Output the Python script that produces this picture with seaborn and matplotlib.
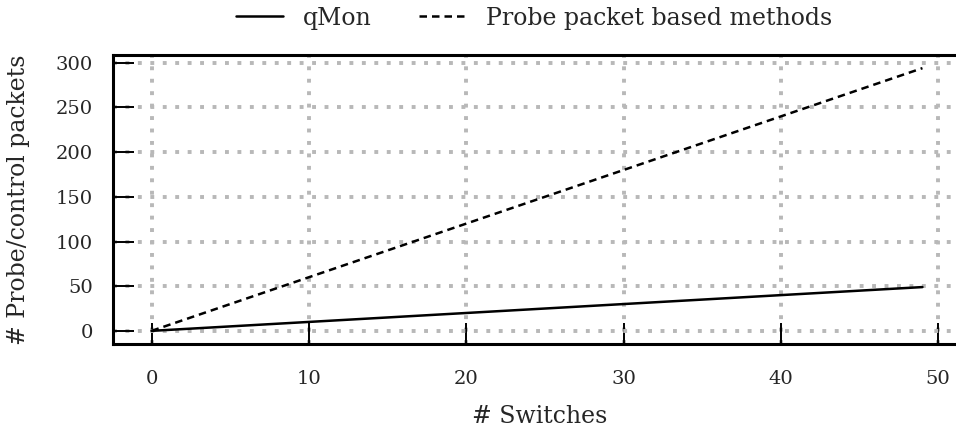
import matplotlib
matplotlib.use("Agg")
import matplotlib.pyplot as plt
import seaborn as sns
import pandas as pd

switches = [0, 10, 20, 30, 40, 49]
qmon = [0, 10, 20, 30, 40, 49]
probe = [0, 60, 120, 180, 240, 294]
series_names = ["qMon", "Probe packet based methods"]
xticks = [0, 10, 20, 30, 40, 50]
yticks = [0, 50, 100, 150, 200, 250, 300]

sns.set_theme(style="white")
plt.rcParams['font.family'] = ['DejaVu Serif']

df = pd.DataFrame({
    "x": switches * 2,
    "y": qmon + probe,
    "method": [series_names[0]] * len(switches) + [series_names[1]] * len(switches),
})

fig = plt.figure(figsize=(9.56, 4.32), dpi=100)
ax = fig.add_axes([113 / 956, 1 - 344 / 432, (961 - 113) / 956, (344 - 55) / 432])

sns.lineplot(data=df, x="x", y="y", style="method", color="black",
             dashes={series_names[0]: "", series_names[1]: (3, 2)},
             linewidth=1.8, ax=ax, legend=True)

ax.set_xticks(xticks)
ax.set_yticks(yticks)
ax.grid(True, color="#b8b8b8", linestyle=(0, (1, 2.2)), linewidth=2.8, zorder=0)
ax.set_axisbelow(True)
for s in ["left", "bottom", "top", "right"]:
    ax.spines[s].set_linewidth(2.2)
    ax.spines[s].set_color("black")
ax.tick_params(bottom=True, left=True, top=False, right=False,
               direction="in", length=15, width=1.4, color="black",
               labelsize=14)
ax.tick_params(axis="y", pad=14.5)
ax.tick_params(axis="x", pad=19)
ax.set_xlabel("# Switches", fontsize=17)
ax.set_ylabel("# Probe/control packets", fontsize=17)
ax.xaxis.set_label_coords((539.5 - 113) / 848, (344 - 405) / 289)
ax.yaxis.set_label_coords((30 - 113) / 848, 0.5)

handles, labels = ax.get_legend_handles_labels()
ax.get_legend().remove()
fig.legend(handles, labels, loc="center", bbox_to_anchor=(534 / 956, 1 - 18 / 432),
           ncol=2, frameon=False, fontsize=17, handlelength=2.0, handletextpad=0.85,
           columnspacing=2.0, borderpad=0.0)

fig.savefig("out.png", dpi=100)
